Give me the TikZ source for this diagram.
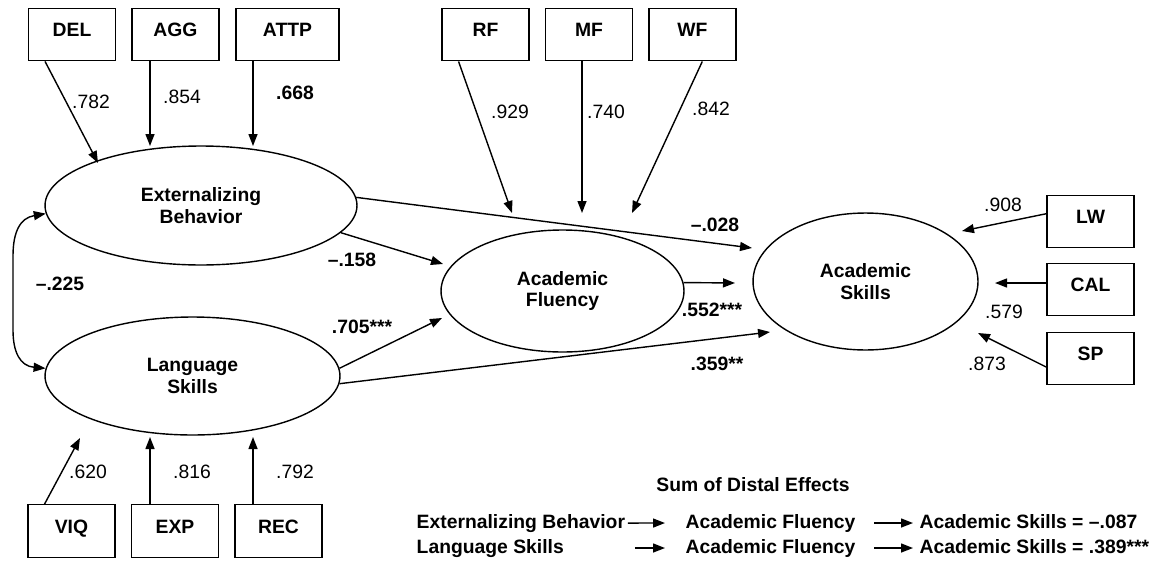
\documentclass[tikz,border=0pt]{standalone}
\usepackage{fontspec}
\setmainfont{Liberation Sans}
\usetikzlibrary{shapes.geometric,arrows.meta}

\begin{document}
\begin{tikzpicture}
  [x=0.02cm,y=-0.02cm,line width=0.8pt,font=\fontsize{11}{12.5}\selectfont,
   box/.style={draw,minimum width=1.74cm,minimum height=1.05cm,inner sep=0pt,font=\fontsize{11}{12.5}\selectfont\bfseries,text height=0.28cm,text depth=0.2cm},
   lat/.style={draw,ellipse,inner sep=0pt,align=center,font=\fontsize{11}{12.5}\selectfont\bfseries},
   bnum/.style={font=\fontsize{11}{12.5}\selectfont\bfseries},
   sumtxt/.style={bnum,anchor=base west,inner sep=0pt},
   arr/.style={-{Triangle[length=0.24cm,width=0.18cm]}},
   cov/.style={{Triangle[length=0.24cm,width=0.18cm]}-{Triangle[length=0.24cm,width=0.18cm]}}]

  \useasboundingbox (0,0) rectangle (1151,561);

  \node[lat,minimum width=6.24cm,minimum height=2.38cm] (n1) at (201,205.5) {Externalizing\\Behavior};
  \node[lat,minimum width=5.9cm,minimum height=2.36cm] (n2) at (192.5,376) {Language\\Skills};
  \node[lat,minimum width=4.86cm,minimum height=2.44cm] (n3) at (562.5,291) {Academic\\Fluency};
  \node[lat,minimum width=4.5cm,minimum height=2.74cm] (n4) at (865.5,281.5) {Academic\\Skills};

  \node[box] (n5) at (72,34.5) {DEL};
  \node[box] (n6) at (175.5,34.5) {AGG};
  \node[box,minimum width=2.06cm] (n7) at (287.5,34.5) {ATTP};
  \node[box] (n8) at (485.5,34.5) {RF};
  \node[box] (n9) at (589,34.5) {MF};
  \node[box] (n10) at (692.5,34.5) {WF};
  \node[box] (n11) at (71.5,531) {VIQ};
  \node[box] (n12) at (175,531) {EXP};
  \node[box] (n13) at (278.5,531) {REC};
  \node[box] (n14) at (1090.5,221.5) {LW};
  \node[box] (n15) at (1090.5,289.5) {CAL};
  \node[box] (n16) at (1090.5,358.5) {SP};

  \coordinate (t5) at (98,163);
  \coordinate (t6) at (150,146);
  \coordinate (t7) at (253,146);
  \coordinate (t8) at (512,213);
  \coordinate (t9) at (582,213);
  \coordinate (t10) at (632,213);
  \coordinate (t11) at (80,438);
  \coordinate (t12) at (150,437);
  \coordinate (t13) at (253,437);
  \coordinate (t14) at (962,231);
  \coordinate (t15) at (995,283);
  \coordinate (t16) at (978,333);
  \coordinate (a1) at (443,264);
  \coordinate (a2) at (752,248);
  \coordinate (a3) at (442,318);
  \coordinate (a4) at (770,332);
  \coordinate (a5) at (735,283);

  \node (n17) at (91,102) {.782};
  \node (n18) at (182,97) {.854};
  \node[bnum] (n19) at (295,93) {.668};
  \node (n20) at (510,112) {.929};
  \node (n21) at (606,112) {.740};
  \node (n22) at (711,109) {.842};
  \node (n23) at (88,472) {.620};
  \node (n24) at (192,472) {.816};
  \node (n25) at (295,472) {.792};
  \node (n26) at (1003,205) {.908};
  \node (n27) at (1004,312) {.579};
  \node (n28) at (987,364) {.873};
  \node[bnum] (n29) at (60,284) {\textendash.225};
  \node[bnum] (n30) at (352,260) {\textendash.158};
  \node[bnum] (n31) at (362,327) {.705***};
  \node[bnum] (n32) at (715,225) {\textendash.028};
  \node[bnum] (n33) at (712,310) {.552***};
  \node[bnum] (n34) at (717,364) {.359**};

  \node[bnum] (n39) at (753,485) {Sum of Distal Effects};
  \node[sumtxt] (n40) at (416,528) {Externalizing Behavior};
  \node[sumtxt] (n41) at (685,528) {Academic Fluency};
  \node[sumtxt] (n42) at (919,528) {Academic Skills = \textendash.087};
  \node[sumtxt] (n43) at (416,553) {Language Skills};
  \node[sumtxt] (n44) at (685,553) {Academic Fluency};
  \node[sumtxt] (n45) at (919,553) {Academic Skills = .389***};

  \foreach \from/\to in {n5.225/t5,n6.south -| t6/t6,n7.south -| t7/t7,n8.225/t8,n9.south -| t9/t9,n10.290/t10,n11.135/t11,n12.north -| t12/t12,n13.north -| t13/t13,n14.170/t14,n15.west |- t15/t15,n16.191/t16}
    \draw[arr] (\from) -- (\to);

  \foreach \from/\to in {n1.349/a1,n1.3/a2,n2.3/a3,n2.357/a4,n3.4/a5}
    \draw[arr] (\from) -- (\to);

  \draw[cov] (n1.183) .. controls (20,218) and (13,232) .. (13,256) -- (13,330) .. controls (13,352) and (20,366) .. (n2.177);

  \draw[arr,shorten <=0.04cm,shorten >=0.4cm] (n40.east) -- (n41.west);
  \draw[arr,shorten <=0.18cm,shorten >=0.4cm] (n40.east |- n44.west) -- (n44.west);
  \draw[arr,shorten <=0.36cm,shorten >=0.12cm] (n41.east) -- (n41.east -| n42.west);
  \draw[arr,shorten <=0.36cm,shorten >=0.12cm] (n44.east) -- (n44.east -| n45.west);
\end{tikzpicture}
\end{document}
